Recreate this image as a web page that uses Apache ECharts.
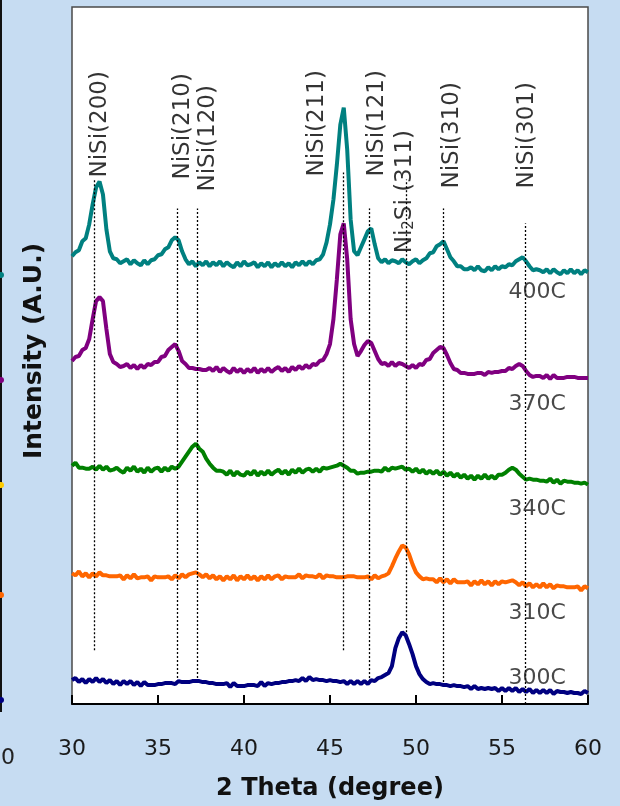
<!DOCTYPE html>
<html><head><meta charset="utf-8">
<script src="https://cdn.jsdelivr.net/npm/echarts@6/dist/echarts.min.js"></script>
<style>html,body{margin:0;padding:0;background:#c6dcf2;}#c{width:620px;height:806px;}</style>
</head><body><div id="c"></div>
<script>
const FONT = 'DejaVu Sans';

// 2-theta sampling positions (degree)
const twoTheta = [
30,30.2,30.4,30.6,30.8,31,31.2,31.4,31.6,31.8,
32,32.2,32.4,32.6,32.8,33,33.2,33.4,33.6,33.8,
34,34.2,34.4,34.6,34.8,35,35.2,35.4,35.6,35.8,
36,36.2,36.4,36.6,36.8,37,37.2,37.4,37.6,37.8,
38,38.2,38.4,38.6,38.8,39,39.2,39.4,39.6,39.8,
40,40.2,40.4,40.6,40.8,41,41.2,41.4,41.6,41.8,
42,42.2,42.4,42.6,42.8,43,43.2,43.4,43.6,43.8,
44,44.2,44.4,44.6,44.8,45,45.2,45.4,45.6,45.8,
46,46.2,46.4,46.6,46.8,47,47.2,47.4,47.6,47.8,
48,48.2,48.4,48.6,48.8,49,49.2,49.4,49.6,49.8,
50,50.2,50.4,50.6,50.8,51,51.2,51.4,51.6,51.8,
52,52.2,52.4,52.6,52.8,53,53.2,53.4,53.6,53.8,
54,54.2,54.4,54.6,54.8,55,55.2,55.4,55.6,55.8,
56,56.2,56.4,56.6,56.8,57,57.2,57.4,57.6,57.8,
58,58.2,58.4,58.6,58.8,59,59.2,59.4,59.6,59.8,
60];

// intensities (offset, arbitrary units)
const int400C = [
449,453,455,464,467,481,501,518,524,511,
476,454,447,446,442,444,446,441,445,442,
440,445,441,445,446,450,451,456,458,465,
468,465,454,446,441,444,439,443,440,444,
439,443,440,444,439,443,440,438,443,439,
444,440,441,443,438,442,439,443,438,442,
439,443,439,442,438,443,440,444,440,444,
441,445,446,451,463,481,506,541,581,598,
556,486,454,450,458,466,474,477,461,447,
443,446,442,445,444,442,446,443,441,444,
446,442,445,447,452,453,459,461,464,456,
448,444,439,439,436,436,438,435,439,435,
434,438,435,439,436,439,438,441,440,444,
446,448,444,439,435,436,435,433,436,432,
436,433,431,435,432,436,432,435,431,435,
433];
const int370C = [
344,348,349,355,357,366,386,404,408,404,
376,351,343,341,338,339,341,337,340,336,
340,337,341,340,343,343,348,349,355,358,
361,354,344,341,337,337,336,336,335,335,
337,334,338,333,337,334,332,337,333,336,
332,336,333,337,332,336,333,337,333,336,
338,334,337,333,338,335,339,336,340,337,
341,340,344,345,351,361,386,426,471,482,
446,386,361,349,354,360,364,362,354,346,
341,342,339,343,339,342,341,339,337,340,
337,341,340,345,346,352,355,358,357,350,
342,336,335,332,332,331,331,331,332,332,
330,333,332,333,333,334,334,337,336,339,
341,339,334,330,328,329,329,327,330,326,
330,327,327,327,328,328,328,327,327,327,
327];
const int340C = [
239,242,237,237,236,236,238,235,239,235,
238,234,235,237,234,232,237,234,238,233,
236,232,237,233,236,237,233,237,234,238,
236,238,243,248,253,258,261,256,253,246,
241,237,234,234,233,230,234,229,233,230,
229,233,230,234,229,233,230,234,230,233,
235,231,234,230,235,232,236,232,235,236,
233,236,233,237,236,237,238,239,241,239,
237,234,234,231,232,232,233,233,234,234,
233,237,234,237,236,237,238,235,236,233,
236,232,235,231,234,231,234,230,233,229,
232,228,231,227,230,226,229,225,229,226,
230,226,229,226,230,230,232,235,237,235,
231,228,225,226,225,225,224,224,223,226,
222,225,221,224,223,223,222,222,221,222,
220];
const int310C = [
131,129,133,128,131,127,131,128,132,129,
129,128,128,128,129,125,129,126,130,126,
127,127,128,124,128,127,127,127,128,125,
129,126,130,127,130,131,132,130,127,130,
126,129,125,128,124,128,125,129,124,128,
125,129,125,128,124,128,125,129,125,128,
129,125,128,127,127,127,130,126,129,128,
128,127,130,126,129,128,128,127,127,127,
128,128,128,127,127,127,128,125,129,126,
128,129,131,138,146,153,159,157,150,140,
132,128,125,126,125,125,122,126,122,125,
121,125,122,122,122,123,119,123,120,124,
120,123,119,123,120,123,122,123,124,122,
119,122,118,121,117,120,117,121,117,120,
116,119,118,118,117,117,117,118,114,118,
116];
const int300C = [
24,26,22,25,21,25,22,26,22,25,
21,24,20,23,19,23,20,23,19,22,
18,22,19,19,19,20,20,21,21,21,
20,23,22,22,22,23,23,23,22,22,
21,21,20,20,20,21,17,21,18,18,
18,19,19,19,18,22,18,21,20,21,
21,22,22,23,23,24,23,26,23,27,
24,25,24,24,23,24,23,23,22,23,
20,23,20,23,20,23,20,24,23,26,
27,29,31,38,56,66,72,69,60,50,
38,30,25,22,20,21,20,20,19,19,
18,19,18,18,17,18,15,18,15,16,
15,16,15,16,13,16,13,16,13,16,
12,15,12,15,11,14,11,14,11,14,
10,13,12,12,11,12,11,11,10,13,
11];

const sampleNames = ['400C','370C','340C','310C','300C'];
const sampleColors = ['#008080','#800080','#008000','#ff6600','#000080'];
const sampleData = [int400C,int370C,int340C,int310C,int300C];
const sampleLabelX = [57.05,57.05,57.05,57.05,57.05];
const sampleLabelY = [413,301,195,91,26];

// reflection reference lines
const refNames = ['NiSi(200)','NiSi(210)','NiSi(120)','NiSi(211)','NiSi(121)','Ni{s|2}Si (311)','NiSi(310)','NiSi(301)'];
const refPos = [31.3,36.1,37.3,45.75,47.3,49.45,51.6,56.35];
const refTop = [526,497,497,533,497,526,497,482];
const refBottom = [54,26,26,54,26,72,22,0];
const refLabelX = [31.65,36.47,37.9,44.22,47.75,49.38,52.11,56.47];
const refLabelY = [528,526,514,529,529,452,517,517];

const chart = echarts.init(document.getElementById('c'), null, {renderer:'canvas'});

const series = [];
series.push({
  type:'line', data:[], silent:true, z:1,
  markLine:{
    silent:true, symbol:['none','none'], animation:false,
    label:{show:false},
    lineStyle:{type:[2,2], color:'#000', width:1.3},
    data: refPos.map((x,i)=>[{coord:[x,refBottom[i]]},{coord:[x,refTop[i]]}])
  }
});
sampleNames.forEach((n,k)=>{
  series.push({
    name:n, type:'line', showSymbol:false, symbol:'none', z:2+k*0.01,
    lineStyle:{color:sampleColors[k], width:4},
    itemStyle:{color:sampleColors[k]},
    data: twoTheta.map((x,i)=>[x, sampleData[k][i]])
  });
});
// draw purple above teal
series[2].z = 3;
series.push({
  type:'scatter', symbolSize:1, itemStyle:{color:'rgba(0,0,0,0)'}, z:5, silent:true,
  data: refLabelX.map((x,i)=>({value:[x, refLabelY[i]], name:refNames[i]})),
  label:{
    show:true, position:'inside', rotate:90, align:'left', verticalAlign:'middle',
    fontFamily:FONT, fontSize:23, color:'#000',
    formatter:(p)=>p.name,
    rich:{ s:{fontFamily:FONT, fontSize:15, color:'#000', verticalAlign:'bottom', lineHeight:14} }
  }
});
series.push({
  type:'scatter', symbolSize:1, itemStyle:{color:'rgba(0,0,0,0)'}, z:5, silent:true,
  data: sampleLabelX.map((x,i)=>({value:[x, sampleLabelY[i]], name:sampleNames[i]})),
  label:{
    show:true, position:'inside', align:'center', verticalAlign:'middle',
    fontFamily:FONT, fontSize:22, color:'#1a1a1a', formatter:(p)=>p.name
  }
});

chart.setOption({
  animation:false,
  backgroundColor:'#c6dcf2',
  grid:{left:72, right:32, top:7, bottom:100, show:true, backgroundColor:'#fff', borderColor:'#4a4a4a', borderWidth:1.5},
  xAxis:{
    type:'value', min:30, max:60, interval:5,
    axisLine:{lineStyle:{color:'#000', width:2}},
    axisTick:{inside:true, length:9, lineStyle:{color:'#000', width:2}},
    axisLabel:{fontFamily:FONT, fontSize:22, color:'#1a1a1a', margin:34},
    splitLine:{show:false},
    name:'2 Theta (degree)', nameLocation:'middle', nameGap:73,
    nameTextStyle:{fontFamily:FONT, fontSize:24, fontWeight:'bold', color:'#111'}
  },
  yAxis:{type:'value', min:0, max:699, show:false},
  graphic:[
    {type:'text', x:34, y:351, rotation:Math.PI/2, silent:true,
     style:{text:'Intensity (A.U.)', fontFamily:FONT, fontSize:25, fontWeight:'bold', fill:'#111', align:'center', verticalAlign:'middle'}},
    {type:'line', silent:true, shape:{x1:1, y1:0, x2:1, y2:712}, style:{stroke:'#111', lineWidth:2}},
    {type:'text', x:8, y:758, silent:true, style:{text:'0', fontFamily:FONT, fontSize:22, fill:'#222', align:'center', verticalAlign:'middle'}},
    {type:'circle', silent:true, shape:{cx:1, cy:275, r:3}, style:{fill:'#008080'}},
    {type:'circle', silent:true, shape:{cx:1, cy:380, r:3}, style:{fill:'#800080'}},
    {type:'circle', silent:true, shape:{cx:1, cy:485, r:3}, style:{fill:'#ffcc00'}},
    {type:'circle', silent:true, shape:{cx:1, cy:595, r:3}, style:{fill:'#ff6600'}},
    {type:'circle', silent:true, shape:{cx:1, cy:700, r:3}, style:{fill:'#000080'}}
  ],
  series: series
});
</script>
</body></html>
